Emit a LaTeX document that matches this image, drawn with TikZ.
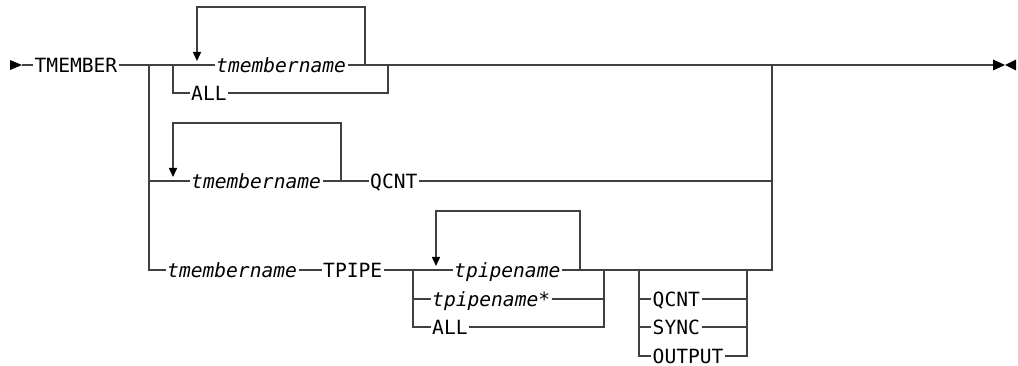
\documentclass[tikz,border=0pt]{standalone}
\usepackage{fontspec}
\newfontfamily\diagfont{DejaVu Sans Mono}
\usepackage{tikz}
\usetikzlibrary{arrows.meta, positioning, calc}
\definecolor{linegray}{RGB}{64, 64, 64}

\tikzset{
  syn/.style={draw=linegray, line width=1.5pt},
  word/.style={inner xsep=1.5pt, inner ysep=0pt, text height=14.3pt, text depth=0pt, anchor=west, font={\diagfont\fontsize{19.6pt}{23pt}\selectfont}},
  varword/.style={word, font={\diagfont\itshape\fontsize{19.6pt}{23pt}\selectfont}},
  loopdown/.style={-{Triangle[width=8pt, length=9pt, color=black]}},
}

\begin{document}
\begin{tikzpicture}[x=1pt, y=-1pt]
  \useasboundingbox (0,0) rectangle (1018,366);

  % main row
  \coordinate (start) at (22,65);
  \node[word] (tmember) at (33,65) {TMEMBER};
  \coordinate (br) at (149,65);
  \coordinate (c1l) at (173,65);
  \coordinate (lp1) at (197,65);
  \node[varword] (tm1) at (214.5,65) {tmembername};
  \coordinate (lp1r) at (365,65);
  \coordinate (c1r) at (388,65);
  \node[word] (all1) at (189.5,93) {ALL};
  \coordinate (outr) at (772,65);
  \coordinate (end) at (993,65);

  % second row
  \node[varword] (tm2) at (189.5,181) {tmembername};
  \coordinate (lp2) at (173,181);
  \coordinate (lp2r) at (341,181);
  \node[word] (qcnt1) at (368.5,181) {QCNT};

  % third row
  \node[varword] (tm3) at (165.5,270) {tmembername};
  \node[word] (tpipe) at (321.5,270) {TPIPE};
  \coordinate (c3l) at (413,270);
  \coordinate (lp3) at (436,270);
  \node[varword] (tp1) at (452.5,270) {tpipename};
  \node[varword] (tp2) at (430.5,299) {tpipename*};
  \node[word] (all3) at (430.5,327) {ALL};
  \coordinate (lp3r) at (580,270);
  \coordinate (c3r) at (604,270);
  \coordinate (g2l) at (639,270);
  \coordinate (g2r) at (747,270);
  \node[word] (qcnt2) at (651,299) {QCNT};
  \node[word] (sync) at (651,327) {SYNC};
  \node[word] (output) at (651,356) {OUTPUT};

  % start and end marks
  \fill[black] (10,60) -- (start) -- (10,70) -- cycle;
  \fill[black] (end) ++(0,-5.5) -- ++(12,5.5) -- ++(-12,5.5) -- cycle;
  \fill[black] (1016,59.5) -- (1005,65) -- (1016,70.5) -- cycle;

  % main line
  \draw[syn] (start) -- (tmember.west);
  \draw[syn] (tmember.east) -- (c1l) -- (tm1.west);
  \draw[syn] (tm1.east) -- (c1r) -- (end);
  \draw[syn] (c1l) |- (all1.west);
  \draw[syn] (all1.east) -| (c1r);
  \draw[syn, loopdown] (lp1r) -- ++(0,-58) -| ([yshift=4pt]lp1);

  % branches
  \draw[syn] (br) |- (tm3.west);
  \draw[syn] (br |- tm2.west) -- (tm2.west);
  \draw[syn] (tm2.east) -- (qcnt1.west);
  \draw[syn] (qcnt1.east) -| (outr);
  \draw[syn, loopdown] (lp2r) -- ++(0,-58) -| ([yshift=4pt]lp2);

  \draw[syn] (tm3.east) -- (tpipe.west);
  \draw[syn] (tpipe.east) -- (tp1.west);
  \draw[syn] (tp1.east) -| (outr);
  \draw[syn] (c3l) |- (all3.west);
  \draw[syn] (c3l |- tp2.west) -- (tp2.west);
  \draw[syn] (tp2.east) -| (c3r);
  \draw[syn] (all3.east) -| (c3r);
  \draw[syn, loopdown] (lp3r) -- ++(0,-59) -| ([yshift=4pt]lp3);

  \draw[syn] (g2l) |- (output.west);
  \draw[syn] (g2l |- qcnt2.west) -- (qcnt2.west);
  \draw[syn] (g2l |- sync.west) -- (sync.west);
  \draw[syn] (qcnt2.east) -| (g2r);
  \draw[syn] (sync.east) -| (g2r);
  \draw[syn] (output.east) -| (g2r);
\end{tikzpicture}
\end{document}
